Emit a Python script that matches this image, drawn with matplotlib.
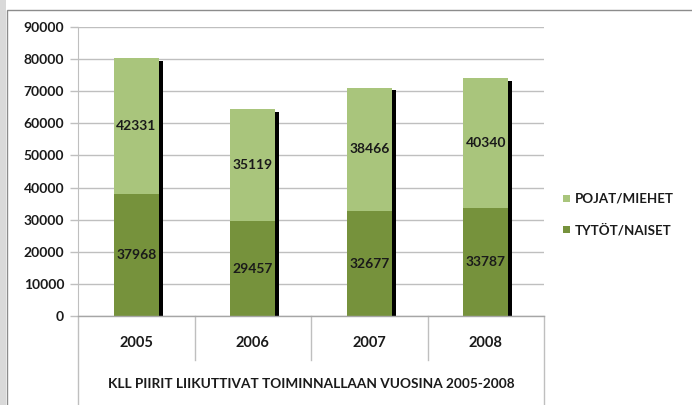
import numpy as np
import matplotlib.pyplot as plt
from matplotlib.patches import Rectangle
from matplotlib.lines import Line2D

years = ['2005', '2006', '2007', '2008']
tytot = [37968, 29457, 32677, 33787]
pojat = [42331, 35119, 38466, 40340]
series_names = ['POJAT/MIEHET', 'TYTÖT/NAISET']
title = 'KLL PIIRIT LIIKUTTIVAT TOIMINNALLAAN VUOSINA 2005-2008'

light = '#a9c57c'
dark = '#76923c'
txt = '#1a1a1a'
plt.rcParams['font.family'] = ['Lato', 'DejaVu Sans']

W, H = 692, 405
fig = plt.figure(figsize=(W / 100, H / 100), dpi=100)

# outer frame with grey shadow on the left
fig.add_artist(Rectangle((0, 0), 6 / W, 1, transform=fig.transFigure,
                         facecolor='#d9d9d9', edgecolor='none', zorder=-2))
fig.add_artist(Rectangle((6.5 / W, -0.1), 1.2, 1 - 10 / H + 0.1,
                         transform=fig.transFigure, facecolor='white',
                         edgecolor='#8c8c8c', linewidth=1, zorder=-1))

x0, x1, y0, y1 = 78, 544, 316, 27
ax = fig.add_axes([x0 / W, 1 - y0 / H, (x1 - x0) / W, (y0 - y1) / H])
ax.set_zorder(2)
ax.set_facecolor('none')

x = np.arange(len(years))
bw = 0.386
tot = np.array(tytot) + np.array(pojat)

# black shadow edge on the right of each bar
ax.bar(x + bw / 2 + 0.017, tot - 900, width=0.032, bottom=0, color='black', zorder=2)
ax.bar(x, tytot, width=bw, color=dark, zorder=3, label=series_names[1])
ax.bar(x, pojat, width=bw, bottom=tytot, color=light, zorder=3, label=series_names[0])

for i in range(len(years)):
    ax.text(x[i], tytot[i] / 2, str(tytot[i]), ha='center', va='center',
            fontsize=10, fontweight='bold', color=txt, zorder=4)
    ax.text(x[i], tytot[i] + pojat[i] / 2, str(pojat[i]), ha='center', va='center',
            fontsize=10, fontweight='bold', color=txt, zorder=4)

ax.set_xlim(-0.5, len(years) - 0.5)
ax.set_ylim(0, 90000)
ax.set_yticks(np.arange(0, 90001, 10000))
ax.set_yticklabels([str(v) for v in range(0, 90001, 10000)], fontsize=10,
                   fontweight='bold', color=txt)
ax.tick_params(axis='y', length=6, color='#bfbfbf', width=1, pad=4)
ax.set_xticks([])
ax.grid(axis='y', color='#bfbfbf', linewidth=1, zorder=1)
for s in ['top', 'right', 'bottom']:
    ax.spines[s].set_visible(False)
ax.spines['left'].set_color('#bfbfbf')
ax.spines['left'].set_zorder(1)

# category table under the plot
ph = y0 - y1
def fy(py):
    return -(py - y0) / ph

lc = '#bfbfbf'
ax.add_line(Line2D([-0.5, 3.5], [0, 0], color='#a6a6a6', lw=1, clip_on=False,
                   transform=ax.get_xaxis_transform(), zorder=5))
for b in [0.5, 1.5, 2.5]:
    ax.add_line(Line2D([b, b], [0, fy(360)], color=lc, lw=1, clip_on=False,
                       transform=ax.get_xaxis_transform()))
for b in [-0.5, 3.5]:
    ax.add_line(Line2D([b, b], [0, fy(410)], color=lc, lw=1, clip_on=False,
                       transform=ax.get_xaxis_transform()))
for i, yr in enumerate(years):
    ax.text(i, fy(343), yr, ha='center', va='center', fontsize=10.5,
            fontweight='bold', color=txt, transform=ax.get_xaxis_transform())
ax.text(1.5, fy(384), title, ha='center', va='center', fontsize=9.8,
        fontweight='bold', color=txt, transform=ax.get_xaxis_transform())

# legend
for name, col, py in [(series_names[0], light, 198), (series_names[1], dark, 230)]:
    fig.add_artist(Rectangle((563 / W, 1 - (py + 3.5) / H), 7 / W, 7 / H,
                             transform=fig.transFigure, facecolor=col,
                             edgecolor='none', zorder=3))
    fig.text(575 / W, 1 - py / H, name, ha='left', va='center', fontsize=9.6,
             fontweight='bold', color=txt)

fig.savefig('out.png', dpi=100)
